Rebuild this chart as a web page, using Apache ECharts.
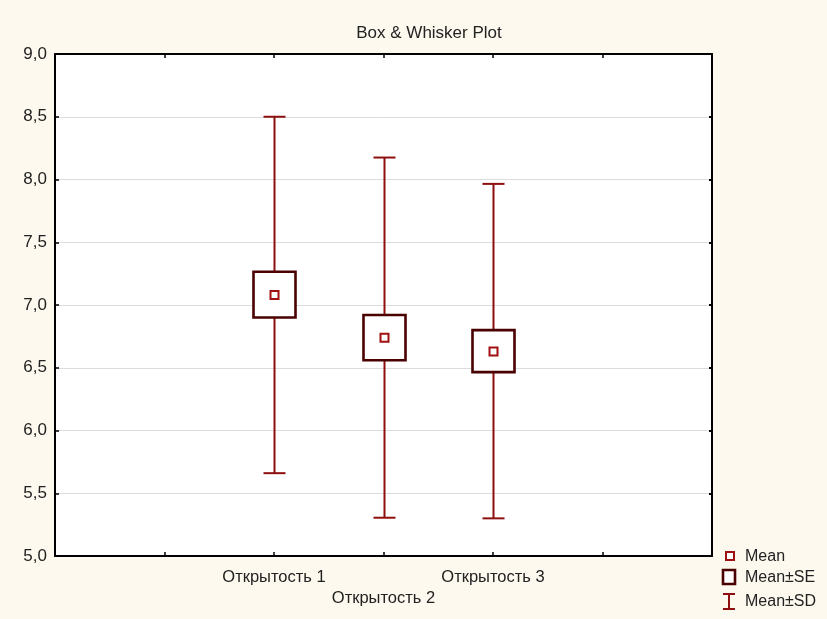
<!DOCTYPE html>
<html>
<head>
<meta charset="utf-8">
<script src="https://cdn.jsdelivr.net/npm/echarts@6/dist/echarts.min.js"></script>
<style>html,body{margin:0;padding:0;background:#fdf9ee;}#c{width:827px;height:619px;}</style>
</head>
<body>
<div id="c"></div>
<script>
var categories = ['Открытость 1', 'Открытость 2', 'Открытость 3'];
var meanValues = [7.08, 6.74, 6.63];
var seLow = [6.90, 6.56, 6.465];
var seHigh = [7.265, 6.92, 6.80];
var sdLow = [5.66, 5.305, 5.30];
var sdHigh = [8.50, 8.175, 7.965];
var yTicks = [5.0, 5.5, 6.0, 6.5, 7.0, 7.5, 8.0, 8.5, 9.0];
var legendLabels = ['Mean', 'Mean±SE', 'Mean±SD'];

var FONT = '"Liberation Sans", Arial, sans-serif';
var WHISKER = '#8e0f0f';
var BOX = '#4a0000';
var MEANC = '#a01010';

var seriesData = categories.map(function (c, i) {
  return [i + 2, sdLow[i], sdHigh[i], seLow[i], seHigh[i], meanValues[i]];
});

function renderItem(params, api) {
  var x = api.value(0);
  var pLo = api.coord([x, api.value(1)]);
  var pHi = api.coord([x, api.value(2)]);
  var pSeLo = api.coord([x, api.value(3)]);
  var pSeHi = api.coord([x, api.value(4)]);
  var pM = api.coord([x, api.value(5)]);
  var cx = Math.round(pM[0]) + 0.5;
  var capW = 11, boxW = 21, mW = 4;
  return {
    type: 'group',
    children: [
      { type: 'line', shape: { x1: cx, y1: pLo[1], x2: cx, y2: pHi[1] }, style: { stroke: WHISKER, lineWidth: 2 } },
      { type: 'line', shape: { x1: cx - capW, y1: pHi[1], x2: cx + capW, y2: pHi[1] }, style: { stroke: WHISKER, lineWidth: 2 } },
      { type: 'line', shape: { x1: cx - capW, y1: pLo[1], x2: cx + capW, y2: pLo[1] }, style: { stroke: WHISKER, lineWidth: 2 } },
      { type: 'rect', shape: { x: cx - boxW, y: pSeHi[1], width: boxW * 2, height: pSeLo[1] - pSeHi[1] }, style: { fill: '#fff', stroke: BOX, lineWidth: 2.6 } },
      { type: 'rect', shape: { x: cx - mW, y: pM[1] - mW, width: mW * 2, height: mW * 2 }, style: { fill: '#fff', stroke: MEANC, lineWidth: 2 } }
    ]
  };
}

var chart = echarts.init(document.getElementById('c'), null, { renderer: 'canvas' });

chart.setOption({
  backgroundColor: '#fdf9ee',
  animation: false,
  title: {
    text: 'Box & Whisker Plot', left: 424, top: 20, textAlign: 'center',
    textStyle: { fontFamily: FONT, fontSize: 17, fontWeight: 'normal', color: '#222' }
  },
  grid: { left: 55, right: 115, top: 54, bottom: 63, show: true, backgroundColor: '#ffffff', borderWidth: 0 },
  xAxis: [
    {
      type: 'value', min: 0, max: 6, interval: 1, position: 'bottom',
      axisLine: { show: true, onZero: false, lineStyle: { color: '#000', width: 2 } },
      axisTick: { show: true, inside: true, length: 4, lineStyle: { color: '#000', width: 1.5 } },
      splitLine: { show: false },
      axisLabel: {
        margin: 11, lineHeight: 21, showMinLabel: true, showMaxLabel: true,
        color: '#222', fontFamily: FONT, fontSize: 16.5,
        formatter: function (v) {
          var i = Math.round(v) - 2;
          if (i < 0 || i >= categories.length) return '';
          return (i % 2 === 1 ? '\n' : '') + categories[i];
        }
      }
    },
    {
      type: 'value', min: 0, max: 6, interval: 1, position: 'top',
      axisLine: { show: true, onZero: false, lineStyle: { color: '#000', width: 2 } },
      axisTick: { show: true, inside: true, length: 4, lineStyle: { color: '#000', width: 1.5 } },
      splitLine: { show: false }, axisLabel: { show: false }
    }
  ],
  yAxis: [
    {
      type: 'value', min: yTicks[0], max: yTicks[yTicks.length - 1], interval: 0.5, position: 'left',
      axisLine: { show: true, onZero: false, lineStyle: { color: '#000', width: 2 } },
      axisTick: { show: true, inside: true, length: 4, lineStyle: { color: '#000', width: 1.5 } },
      splitLine: { show: true, lineStyle: { color: '#dcdcdc', width: 1 } },
      axisLabel: {
        margin: 8, color: '#222', fontFamily: FONT, fontSize: 17,
        formatter: function (v) { return v.toFixed(1).replace('.', ','); }
      }
    },
    {
      type: 'value', min: yTicks[0], max: yTicks[yTicks.length - 1], interval: 0.5, position: 'right',
      axisLine: { show: true, onZero: false, lineStyle: { color: '#000', width: 2 } },
      axisTick: { show: true, inside: true, length: 3, lineStyle: { color: '#000', width: 2 } },
      splitLine: { show: false }, axisLabel: { show: false }
    }
  ],
  series: [{
    type: 'custom', xAxisIndex: 0, yAxisIndex: 0,
    renderItem: renderItem, data: seriesData, clip: false
  }],
  graphic: [
    { type: 'rect', shape: { x: 726, y: 552, width: 8, height: 8 }, style: { fill: '#fff', stroke: MEANC, lineWidth: 2 } },
    { type: 'text', left: 745, top: 549, style: { text: legendLabels[0], font: '16px ' + FONT, fill: '#222' } },
    { type: 'rect', shape: { x: 723, y: 570, width: 12, height: 14 }, style: { fill: '#fff', stroke: BOX, lineWidth: 2.6 } },
    { type: 'text', left: 745, top: 570, style: { text: legendLabels[1], font: '16px ' + FONT, fill: '#222' } },
    { type: 'line', shape: { x1: 723, y1: 594, x2: 735, y2: 594 }, style: { stroke: WHISKER, lineWidth: 2 } },
    { type: 'line', shape: { x1: 729, y1: 594, x2: 729, y2: 609 }, style: { stroke: WHISKER, lineWidth: 2 } },
    { type: 'line', shape: { x1: 723, y1: 609, x2: 735, y2: 609 }, style: { stroke: WHISKER, lineWidth: 2 } },
    { type: 'text', left: 745, top: 594, style: { text: legendLabels[2], font: '16px ' + FONT, fill: '#222' } }
  ]
});
</script>
</body>
</html>
